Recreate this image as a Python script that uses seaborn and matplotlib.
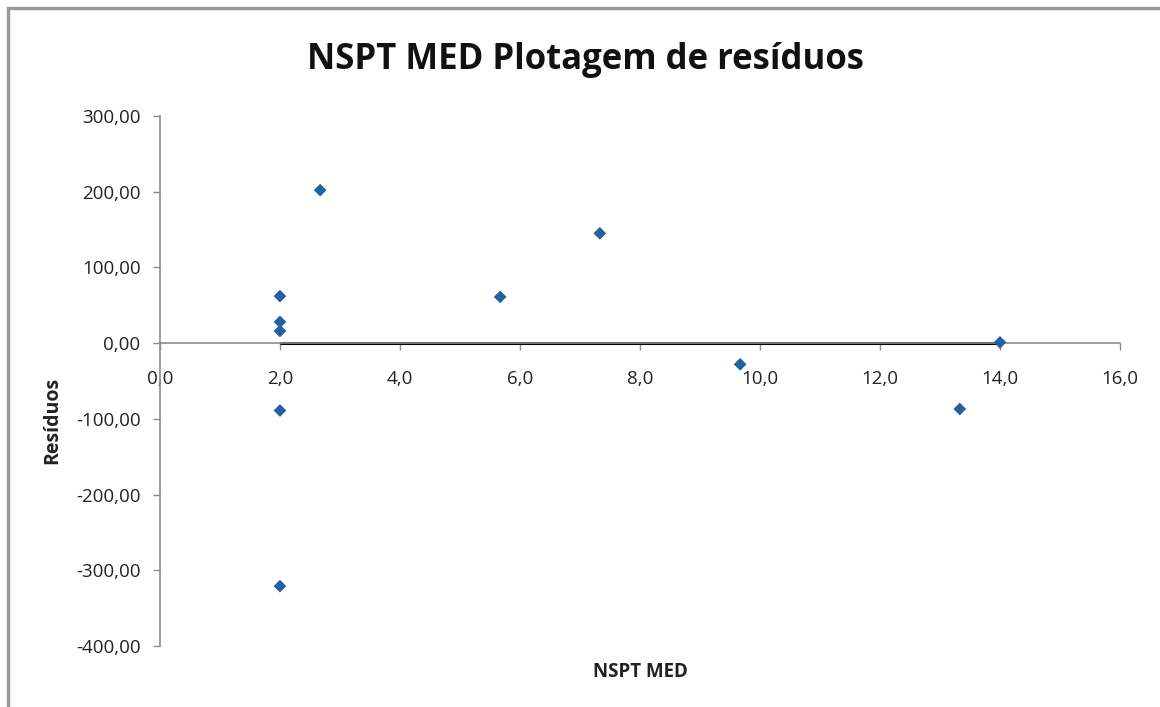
"""
Residual plot NSPT MED (Excel style)
"""
import matplotlib
matplotlib.use('Agg')
import matplotlib.pyplot as plt
from matplotlib.ticker import FuncFormatter, MultipleLocator
from matplotlib.patches import Rectangle
import pandas as pd
import seaborn as sns

# values
nspt_med = [2.0, 2.0, 2.0, 2.0, 2.0, 2.67, 5.67, 7.33, 9.67, 13.33, 14.0]
residuos = [62.0, 28.0, 16.0, -89.0, -321.0, 202.0, 61.0, 145.0, -28.0, -87.0, 1.0]

x_ticks = [0, 2, 4, 6, 8, 10, 12, 14, 16]
y_ticks = [-400, -300, -200, -100, 0, 100, 200, 300]

sns.set_style('white')
plt.rcParams['font.family'] = ['Open Sans', 'DejaVu Sans']

df = pd.DataFrame({'NSPT MED': nspt_med, 'Resíduos': residuos})

fig = plt.figure(figsize=(11.6, 7.07), dpi=100)
ax = fig.add_axes([0.1379, 0.0863, 0.8276, 0.7497])

# zero line across the x range of the data
ax.hlines(0, min(nspt_med), max(nspt_med), color='black', lw=2.2, zorder=2)

sns.scatterplot(data=df, x='NSPT MED', y='Resíduos', marker='D', s=42,
                color='#2262A3', edgecolor='none', ax=ax, zorder=3)

ax.set_xlim(x_ticks[0], x_ticks[-1])
ax.set_ylim(y_ticks[0], y_ticks[-1])
ax.xaxis.set_major_locator(MultipleLocator(2))
ax.yaxis.set_major_locator(MultipleLocator(100))
ax.xaxis.set_major_formatter(FuncFormatter(lambda v, p: f'{v:.1f}'.replace('.', ',')))
ax.yaxis.set_major_formatter(FuncFormatter(lambda v, p: f'{v:.2f}'.replace('.', ',')))

for s in ['top', 'right']:
    ax.spines[s].set_visible(False)
ax.spines['bottom'].set_position(('data', 0))
for s in ['left', 'bottom']:
    ax.spines[s].set_color('#8c8c8c')
    ax.spines[s].set_linewidth(1.2)

ax.tick_params(axis='both', which='major', direction='out', length=5, width=1,
               color='#8c8c8c', labelsize=13.5, labelcolor='#222222')
ax.tick_params(axis='x', bottom=True, pad=14.5)
ax.tick_params(axis='y', left=True, pad=9)

ax.set_xlabel('NSPT MED', fontsize=13.5, fontweight='bold', color='#222222')
ax.set_ylabel('Resíduos', fontsize=14, fontweight='bold', color='#222222')
ax.xaxis.set_label_coords(0.5, -0.03)
ax.yaxis.set_label_coords(-0.102, 0.425)

fig.text(0.505, 0.915, 'NSPT MED Plotagem de resíduos', ha='center', va='center',
         fontsize=25, fontweight='bold', color='#111111')

# chart area border
fig.patches.append(Rectangle((8 / 1160, -0.05), 1.1, 1.05 - 8 / 707,
                             transform=fig.transFigure, fill=False,
                             edgecolor='#9a9a9a', lw=2.5))

fig.savefig('out.png', dpi=100)
